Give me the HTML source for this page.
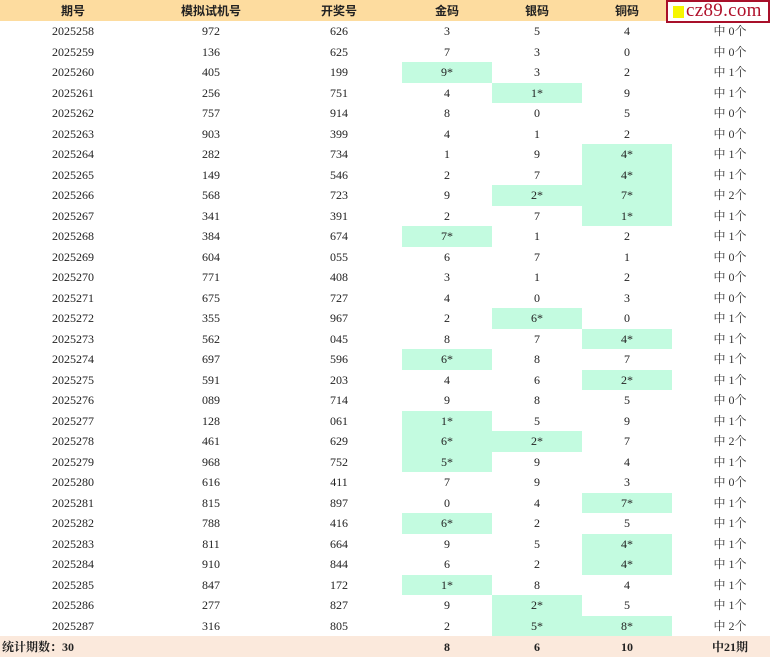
<!DOCTYPE html>
<html><head><meta charset="utf-8"><style>
body{margin:0;width:770px;height:657px;overflow:hidden;background:#fff;font-family:"Liberation Serif","Noto Serif CJK SC","Noto Sans CJK SC",serif;font-size:12px;color:#222;}
table{border-collapse:collapse;table-layout:fixed;width:770px;position:absolute;left:0;top:0;}
td{padding:0;text-align:center;height:20.5px;line-height:20px;white-space:nowrap;}
tr.h td{height:21px;background:#fddc9f;font-weight:bold;font-family:"Liberation Sans","Noto Sans CJK SC",sans-serif;}
tr.f td{height:21px;background:#fbe9dc;font-weight:bold;}
td.m{background:#c3fbe0;}
td.z{color:#333;padding-left:18px;}
tr.f td.z2{padding-left:18px;}
.logo{position:absolute;left:666px;top:0;width:100px;height:19px;border:2px solid #a8102a;background:#fff;}
.logo .sq{position:absolute;left:5px;top:4px;width:11px;height:12px;background:#f6f600;}
.logo .t{position:absolute;left:18px;top:-2px;font-family:"Liberation Serif",serif;font-size:19px;color:#b0102a;letter-spacing:0.3px;}
</style></head><body>
<table>
<colgroup><col style="width:146px"><col style="width:130px"><col style="width:126px"><col style="width:90px"><col style="width:90px"><col style="width:90px"><col style="width:98px"></colgroup>
<tr class="h"><td>期号</td><td>模拟试机号</td><td>开奖号</td><td>金码</td><td>银码</td><td>铜码</td><td></td></tr>
<tr><td>2025258</td><td>972</td><td>626</td><td>3</td><td>5</td><td>4</td><td class="z">中 0个</td></tr>
<tr><td>2025259</td><td>136</td><td>625</td><td>7</td><td>3</td><td>0</td><td class="z">中 0个</td></tr>
<tr><td>2025260</td><td>405</td><td>199</td><td class="m">9*</td><td>3</td><td>2</td><td class="z">中 1个</td></tr>
<tr><td>2025261</td><td>256</td><td>751</td><td>4</td><td class="m">1*</td><td>9</td><td class="z">中 1个</td></tr>
<tr><td>2025262</td><td>757</td><td>914</td><td>8</td><td>0</td><td>5</td><td class="z">中 0个</td></tr>
<tr><td>2025263</td><td>903</td><td>399</td><td>4</td><td>1</td><td>2</td><td class="z">中 0个</td></tr>
<tr><td>2025264</td><td>282</td><td>734</td><td>1</td><td>9</td><td class="m">4*</td><td class="z">中 1个</td></tr>
<tr><td>2025265</td><td>149</td><td>546</td><td>2</td><td>7</td><td class="m">4*</td><td class="z">中 1个</td></tr>
<tr><td>2025266</td><td>568</td><td>723</td><td>9</td><td class="m">2*</td><td class="m">7*</td><td class="z">中 2个</td></tr>
<tr><td>2025267</td><td>341</td><td>391</td><td>2</td><td>7</td><td class="m">1*</td><td class="z">中 1个</td></tr>
<tr><td>2025268</td><td>384</td><td>674</td><td class="m">7*</td><td>1</td><td>2</td><td class="z">中 1个</td></tr>
<tr><td>2025269</td><td>604</td><td>055</td><td>6</td><td>7</td><td>1</td><td class="z">中 0个</td></tr>
<tr><td>2025270</td><td>771</td><td>408</td><td>3</td><td>1</td><td>2</td><td class="z">中 0个</td></tr>
<tr><td>2025271</td><td>675</td><td>727</td><td>4</td><td>0</td><td>3</td><td class="z">中 0个</td></tr>
<tr><td>2025272</td><td>355</td><td>967</td><td>2</td><td class="m">6*</td><td>0</td><td class="z">中 1个</td></tr>
<tr><td>2025273</td><td>562</td><td>045</td><td>8</td><td>7</td><td class="m">4*</td><td class="z">中 1个</td></tr>
<tr><td>2025274</td><td>697</td><td>596</td><td class="m">6*</td><td>8</td><td>7</td><td class="z">中 1个</td></tr>
<tr><td>2025275</td><td>591</td><td>203</td><td>4</td><td>6</td><td class="m">2*</td><td class="z">中 1个</td></tr>
<tr><td>2025276</td><td>089</td><td>714</td><td>9</td><td>8</td><td>5</td><td class="z">中 0个</td></tr>
<tr><td>2025277</td><td>128</td><td>061</td><td class="m">1*</td><td>5</td><td>9</td><td class="z">中 1个</td></tr>
<tr><td>2025278</td><td>461</td><td>629</td><td class="m">6*</td><td class="m">2*</td><td>7</td><td class="z">中 2个</td></tr>
<tr><td>2025279</td><td>968</td><td>752</td><td class="m">5*</td><td>9</td><td>4</td><td class="z">中 1个</td></tr>
<tr><td>2025280</td><td>616</td><td>411</td><td>7</td><td>9</td><td>3</td><td class="z">中 0个</td></tr>
<tr><td>2025281</td><td>815</td><td>897</td><td>0</td><td>4</td><td class="m">7*</td><td class="z">中 1个</td></tr>
<tr><td>2025282</td><td>788</td><td>416</td><td class="m">6*</td><td>2</td><td>5</td><td class="z">中 1个</td></tr>
<tr><td>2025283</td><td>811</td><td>664</td><td>9</td><td>5</td><td class="m">4*</td><td class="z">中 1个</td></tr>
<tr><td>2025284</td><td>910</td><td>844</td><td>6</td><td>2</td><td class="m">4*</td><td class="z">中 1个</td></tr>
<tr><td>2025285</td><td>847</td><td>172</td><td class="m">1*</td><td>8</td><td>4</td><td class="z">中 1个</td></tr>
<tr><td>2025286</td><td>277</td><td>827</td><td>9</td><td class="m">2*</td><td>5</td><td class="z">中 1个</td></tr>
<tr><td>2025287</td><td>316</td><td>805</td><td>2</td><td class="m">5*</td><td class="m">8*</td><td class="z">中 2个</td></tr>
<tr class="f"><td style="text-align:left;padding-left:2px">统计期数：30</td><td></td><td></td><td>8</td><td>6</td><td>10</td><td class="z2">中21期</td></tr>
</table>
<div class="logo"><div class="sq"></div><div class="t">cz89.com</div></div>
</body></html>
